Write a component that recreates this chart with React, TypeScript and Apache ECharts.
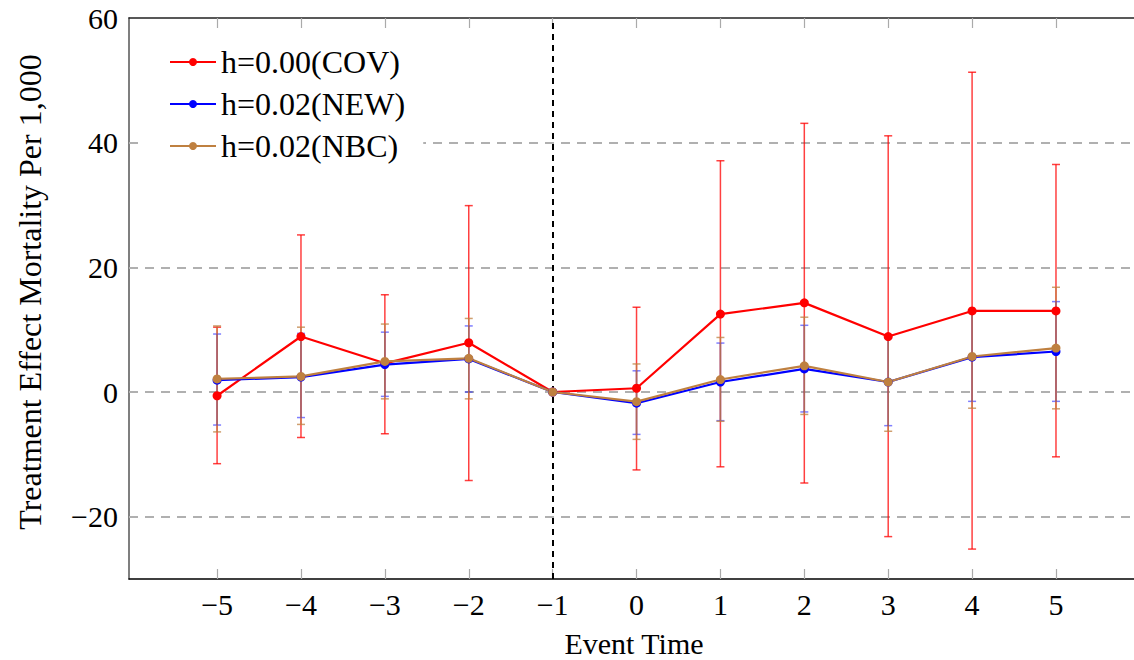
import React, { useEffect, useRef } from "react";
import * as echarts from "echarts";

const eventTimes = [-5, -4, -3, -2, -1, 0, 1, 2, 3, 4, 5];
const xTicks = [-5, -4, -3, -2, -1, 0, 1, 2, 3, 4, 5];
const yGridValues = [-20, 0, 20, 40];

const covMean = [-0.6, 8.9, 4.6, 7.9, 0, 0.6, 12.5, 14.3, 8.9, 13.0, 13.0];
const covLow = [-11.5, -7.3, -6.7, -14.2, 0, -12.5, -12.0, -14.6, -23.2, -25.2, -10.4];
const covHigh = [10.4, 25.2, 15.6, 29.9, 0, 13.6, 37.1, 43.1, 41.1, 51.3, 36.5];

const newMean = [1.9, 2.4, 4.4, 5.3, 0, -1.8, 1.6, 3.7, 1.6, 5.6, 6.5];
const newLow = [-5.3, -4.1, -0.7, 0.0, 0, -6.8, -4.6, -3.2, -5.4, -1.5, -1.5];
const newHigh = [9.3, 9.4, 9.6, 10.6, 0, 3.4, 7.85, 10.7, 8.6, 12.8, 14.5];

const nbcMean = [2.1, 2.5, 4.9, 5.4, 0, -1.55, 2.0, 4.2, 1.6, 5.7, 7.05];
const nbcLow = [-6.4, -5.2, -1.1, -1.1, 0, -7.6, -4.7, -3.6, -6.3, -2.6, -2.7];
const nbcHigh = [10.6, 10.4, 10.9, 11.8, 0, 4.5, 8.75, 12.0, 9.2, 13.0, 16.8];

const FONT = "'Liberation Serif', 'DejaVu Serif', serif";
const RED = "#ff0000";
const BLUE = "#0000ff";
const BROWN = "#bf8040";

function fmt(v: number): string {
  return v < 0 ? "\u2212" + Math.abs(v) : String(v);
}

function errorSeries(name: string, low: number[], high: number[], color: string, opacity: number) {
  return {
    type: "custom",
    name: name + "-err",
    silent: true,
    z: 3,
    data: eventTimes.map((x, i) => [x, low[i], high[i]]),
    encode: { x: 0, y: [1, 2] },
    renderItem: (params: any, api: any) => {
      const x = api.value(0);
      const lo = api.value(1);
      const hi = api.value(2);
      if (lo === hi) return null;
      const p1 = api.coord([x, lo]);
      const p2 = api.coord([x, hi]);
      const hw = 4;
      const style = { stroke: color, lineWidth: 1.5, opacity };
      return {
        type: "group",
        children: [
          { type: "line", shape: { x1: p1[0], y1: p1[1], x2: p2[0], y2: p2[1] }, style },
          { type: "line", shape: { x1: p1[0] - hw, y1: p1[1], x2: p1[0] + hw, y2: p1[1] }, style },
          { type: "line", shape: { x1: p2[0] - hw, y1: p2[1], x2: p2[0] + hw, y2: p2[1] }, style },
        ],
      };
    },
  };
}

function lineSeries(name: string, mean: number[], color: string) {
  return {
    type: "line",
    name,
    z: 4,
    data: eventTimes.map((x, i) => [x, mean[i]]),
    symbol: "circle",
    symbolSize: 9,
    lineStyle: { color, width: 2.2 },
    itemStyle: { color },
  };
}

export default function App() {
  const ref = useRef<HTMLDivElement>(null);
  useEffect(() => {
    if (!ref.current) return;
    const chart = echarts.init(ref.current, undefined, { renderer: "svg" });
    const xAxisCommon = {
      type: "value",
      min: -6.05,
      max: 5.93,
      splitLine: { show: false },
    };
    chart.setOption({
      animation: false,
      backgroundColor: "#ffffff",
      grid: { left: 129, right: 0, top: 18, bottom: 81, containLabel: false },
      xAxis: [
        {
          ...xAxisCommon,
          position: "bottom",
          axisLine: { show: true, onZero: false, lineStyle: { color: "#000", width: 1.5 } },
          axisTick: {
            show: true,
            inside: true,
            length: 10,
            customValues: xTicks,
            lineStyle: { color: "#aaa", width: 1.2 },
          },
          axisLabel: {
            customValues: xTicks,
            formatter: (v: number) => fmt(v),
            fontFamily: FONT,
            fontSize: 30,
            color: "#000",
            margin: 10,
          },
        },
        {
          ...xAxisCommon,
          position: "top",
          axisLine: { show: true, onZero: false, lineStyle: { color: "#222", width: 1.5 } },
          axisTick: {
            show: true,
            inside: true,
            length: 10,
            customValues: xTicks,
            lineStyle: { color: "#aaa", width: 1.2 },
          },
          axisLabel: { show: false },
        },
      ],
      yAxis: {
        type: "value",
        min: -30,
        max: 60,
        interval: 10,
        axisLine: { show: true, onZero: false, lineStyle: { color: "#555", width: 1.5 } },
        axisTick: { show: false },
        splitLine: { show: false },
        axisLabel: {
          formatter: (v: number) => (v % 20 === 0 && v > -30 ? fmt(v) : ""),
          fontFamily: FONT,
          fontSize: 30,
          color: "#000",
          margin: 11,
        },
      },
      legend: {
        orient: "vertical",
        left: 145,
        top: 38,
        z: 10,
        padding: [8, 18, 8, 24],
        backgroundColor: "#ffffff",
        itemWidth: 46,
        itemHeight: 10,
        itemGap: 10,
        data: ["h=0.00(COV)", "h=0.02(NEW)", "h=0.02(NBC)"],
        textStyle: { fontFamily: FONT, fontSize: 32, color: "#000", lineHeight: 30 },
      },
      graphic: [
        {
          type: "text",
          x: 634,
          y: 643,
          style: {
            text: "Event Time",
            font: "30px " + FONT,
            fill: "#000",
            textAlign: "center",
            textVerticalAlign: "middle",
          },
        },
        {
          type: "text",
          x: 30,
          y: 292,
          rotation: Math.PI / 2,
          style: {
            text: "Treatment Effect Mortality Per 1,000",
            font: "32px " + FONT,
            fill: "#000",
            textAlign: "center",
            textVerticalAlign: "middle",
          },
        },
      ],
      series: [
        {
          type: "line",
          name: "grid",
          data: [],
          silent: true,
          z: 1,
          markLine: {
            silent: true,
            z: 1,
            symbol: "none",
            label: { show: false },
            lineStyle: { color: "#b0b0b0", width: 2, type: [9, 7] },
            data: yGridValues.map((v) => ({ yAxis: v })),
          },
        },
        {
          type: "line",
          name: "vline",
          data: [],
          silent: true,
          z: 2,
          markLine: {
            silent: true,
            z: 2,
            symbol: "none",
            label: { show: false },
            lineStyle: { color: "#000", width: 2, type: [6, 5] },
            data: [{ xAxis: -1 }],
          },
        },
        errorSeries("h=0.00(COV)", covLow, covHigh, RED, 0.75),
        lineSeries("h=0.00(COV)", covMean, RED),
        errorSeries("h=0.02(NEW)", newLow, newHigh, BLUE, 0.5),
        lineSeries("h=0.02(NEW)", newMean, BLUE),
        errorSeries("h=0.02(NBC)", nbcLow, nbcHigh, BROWN, 0.75),
        lineSeries("h=0.02(NBC)", nbcMean, BROWN),
      ],
    });
    return () => chart.dispose();
  }, []);
  return (
    <div
      ref={ref}
      style={{ position: "fixed", left: 0, top: 0, width: 1134, height: 660, background: "#fff" }}
    />
  );
}
